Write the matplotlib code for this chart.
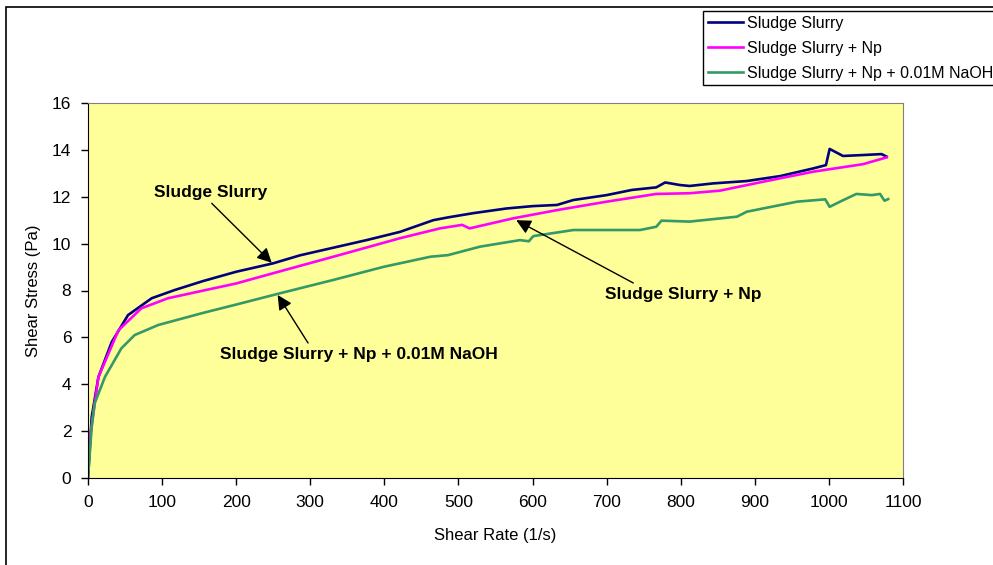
import matplotlib.pyplot as plt
from matplotlib.patches import Rectangle

plt.rcParams['font.family'] = ['Liberation Sans', 'DejaVu Sans']

# Data
rate_slurry = [0, 5, 14, 32, 54, 86, 117, 155, 200, 250, 286, 322, 376, 421, 466, 486, 520,
               565, 600, 633, 655, 700, 734, 767, 779, 799, 812, 844, 889, 934, 979, 996,
               1001, 1019, 1046, 1071, 1078]
stress_slurry = [0, 2.6, 4.3, 5.8, 6.95, 7.67, 8.02, 8.4, 8.8, 9.16, 9.5, 9.76, 10.15, 10.5,
                 11.0, 11.12, 11.3, 11.5, 11.6, 11.65, 11.86, 12.07, 12.29, 12.4, 12.61, 12.5,
                 12.46, 12.57, 12.67, 12.88, 13.21, 13.35, 14.04, 13.74, 13.78, 13.82, 13.71]

rate_np = [0, 3, 14, 41, 72, 108, 156, 200, 241, 331, 421, 475, 505, 515, 574, 633, 700,
           767, 812, 853, 911, 979, 1046, 1078]
stress_np = [1.0, 1.8, 4.3, 6.3, 7.24, 7.67, 8.0, 8.3, 8.66, 9.44, 10.23, 10.65, 10.8, 10.65,
             11.08, 11.43, 11.79, 12.12, 12.15, 12.26, 12.64, 13.07, 13.39, 13.68]

rate_naoh = [0, 5, 9, 23, 45, 63, 95, 156, 200, 259, 331, 399, 462, 486, 529, 583, 595, 601,
             655, 745, 767, 774, 812, 876, 889, 957, 995, 1001, 1015, 1037, 1058, 1069, 1075,
             1080]
stress_naoh = [0, 2.19, 3.19, 4.32, 5.53, 6.1, 6.53, 7.05, 7.4, 7.88, 8.45, 9.01, 9.44, 9.51,
               9.87, 10.15, 10.1, 10.32, 10.58, 10.58, 10.72, 10.98, 10.94, 11.15, 11.36, 11.79,
               11.89, 11.57, 11.79, 12.12, 12.07, 12.12, 11.83, 11.9]

labels = ['Sludge Slurry', 'Sludge Slurry + Np', 'Sludge Slurry + Np + 0.01M NaOH']
colors = ['#000080', '#FF00FF', '#339966']

fig = plt.figure(figsize=(9.93, 5.65), dpi=100)
ax = fig.add_axes([88 / 993, 1 - 478 / 565, 815 / 993, 375 / 565])
ax.set_facecolor('#FFFF99')

lines = []
for xs, ys, c, lab in zip([rate_slurry, rate_np, rate_naoh],
                          [stress_slurry, stress_np, stress_naoh], colors, labels):
    ln, = ax.plot(xs, ys, color=c, lw=1.9, label=lab)
    lines.append(ln)

ax.set_xlim(0, 1100)
ax.set_ylim(0, 16)
ax.set_xticks(range(0, 1101, 100))
ax.set_yticks(range(0, 17, 2))
ax.tick_params(direction='out', length=5, width=1, labelsize=12.5, pad=7)
ax.spines['top'].set_color('#808080')
ax.spines['right'].set_color('#808080')
ax.set_xlabel('Shear Rate (1/s)', fontsize=12, labelpad=13)
ax.set_ylabel('Shear Stress (Pa)', fontsize=12, labelpad=8)

# annotations with arrows
arrow = dict(arrowstyle='-|>', color='black', lw=1, mutation_scale=22, shrinkA=0, shrinkB=0)
ax.annotate('', xy=(248, 9.18), xytext=(167, 11.72), arrowprops=arrow)
ax.text(166, 12.2, labels[0], fontsize=12.5, fontweight='bold', ha='center', va='center')
ax.annotate('', xy=(578, 11.0), xytext=(736, 8.32), arrowprops=arrow)
ax.text(804, 7.81, labels[1], fontsize=12.5, fontweight='bold', ha='center', va='center')
ax.annotate('', xy=(256, 7.81), xytext=(297, 5.76), arrowprops=arrow)
ax.text(366, 5.29, labels[2], fontsize=12.5, fontweight='bold', ha='center', va='center')

# outer chart frame
fig.patches.append(Rectangle((6 / 993, -0.5), 2, 1.5 - 7 / 565, transform=fig.transFigure,
                             fill=False, edgecolor='black', lw=1.2))

# legend runs off the right edge, as in the original chart
leg = fig.legend(handles=lines, labels=labels, loc='upper left',
                 bbox_to_anchor=(703 / 993, 1 - 11 / 565), borderaxespad=0,
                 fontsize=11.5, frameon=True, fancybox=False, edgecolor='black',
                 framealpha=1, handlelength=2.2, handletextpad=0.25, borderpad=0.3,
                 labelspacing=0.62)
leg.get_frame().set_linewidth(1)

fig.savefig('out.png', dpi=100)
